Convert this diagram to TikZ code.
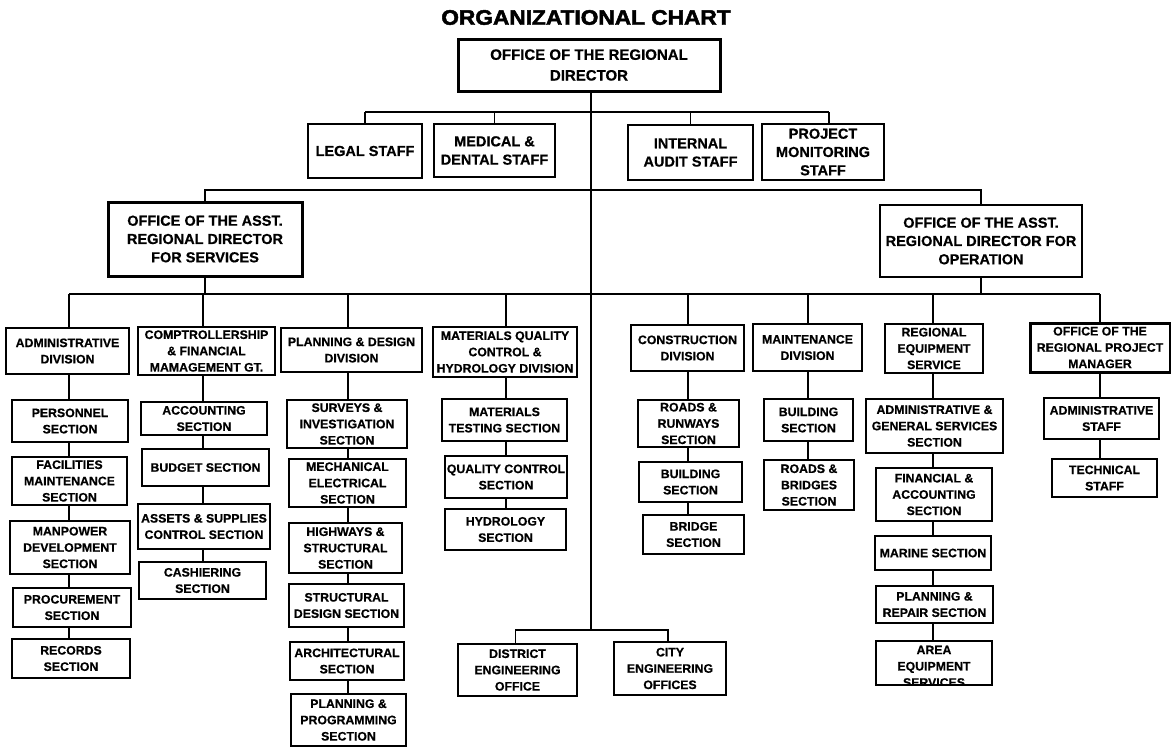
\documentclass[tikz,border=0pt]{standalone}
\usepackage{graphicx}
\usepackage{fontspec}
\setmainfont{Liberation Sans}[BoldFeatures={FakeBold=0.6}]
\newfontfamily\headingfont{Liberation Sans}[BoldFeatures={FakeBold=2.2}]
\newcommand\orgtitle{\headingfont\bfseries\fontsize{21}{24}\selectfont}
\newcommand\orgtop{\bfseries\fontsize{15}{20.7}\selectfont}
\newcommand\orgstaff{\bfseries\fontsize{14.5}{18.3}\selectfont}
\newcommand\orgsec{\bfseries\fontsize{12.3}{16.3}\selectfont}
\begin{document}
\begin{tikzpicture}[x=1pt,y=-1pt,
  unitbox/.style={draw, fill=white, line width=1.3pt, inner sep=0pt, align=center, font=\orgsec},
  heavy/.style={unitbox, line width=3pt},
  midheavy/.style={unitbox, line width=2.2pt},
  link/.style={line width=1.4pt},
  sz/.style 2 args={minimum width=#1pt, minimum height=#2pt}]

\fill[white] (0,0) rectangle (1171,748);
\useasboundingbox (0,0) rectangle (1171,748);

% title
\node[font=\orgtitle, inner sep=0pt] (title) at (586,17.5) {\scalebox{1.08}[1]{ORGANIZATIONAL CHART}};

% regional director and staff units
\node[heavy, font=\orgtop, sz={262}{52}] (rd) at (589,65) {OFFICE OF THE REGIONAL\\DIRECTOR};
\node[unitbox, font=\orgstaff, sz={114}{54}] (legal) at (365,151) {LEGAL STAFF};
\node[unitbox, font=\orgstaff, sz={121}{53}] (med) at (494.5,150.5) {MEDICAL \&\\DENTAL STAFF};
\node[unitbox, font=\orgstaff, sz={125}{55}] (audit) at (690.5,152.5) {INTERNAL\\AUDIT STAFF};
\node[unitbox, font=\orgstaff, sz={122}{56}] (pm) at (823,152) {PROJECT\\MONITORING\\STAFF};

% assistant regional directors
\node[heavy, font=\orgstaff, sz={194}{74}] (ards) at (205,239) {OFFICE OF THE ASST.\\REGIONAL DIRECTOR\\FOR SERVICES};
\node[midheavy, font=\orgstaff, sz={202}{72}] (ardo) at (981,241) {OFFICE OF THE ASST.\\REGIONAL DIRECTOR FOR\\OPERATION};

% divisions
\node[unitbox, sz={123}{46}] (adm) at (67.5,351) {ADMINISTRATIVE\\DIVISION};
\node[unitbox, sz={137}{48}] (comp) at (206.5,351) {COMPTROLLERSHIP\\\& FINANCIAL\\MAMAGEMENT GT.};
\node[unitbox, sz={141}{44}] (plan) at (351.5,350) {PLANNING \& DESIGN\\DIVISION};
\node[unitbox, sz={144}{50}] (mat) at (505,352) {MATERIALS QUALITY\\CONTROL \&\\HYDROLOGY DIVISION};
\node[unitbox, line width=1.6pt, sz={113}{46}] (cons) at (687.5,348) {CONSTRUCTION\\DIVISION};
\node[unitbox, sz={109}{47}] (maint) at (807.5,347.5) {MAINTENANCE\\DIVISION};
\node[unitbox, sz={98}{49}] (regeq) at (934,348.5) {REGIONAL\\EQUIPMENT\\SERVICE};
\node[heavy, sz={140}{49}] (rpm) at (1100,347.5) {OFFICE OF THE\\REGIONAL PROJECT\\MANAGER};

% administrative division sections
\node[unitbox, sz={116}{42}] (pers) at (70,421) {PERSONNEL\\SECTION};
\node[unitbox, sz={115}{48}] (fac) at (69.5,481) {FACILITIES\\MAINTENANCE\\SECTION};
\node[unitbox, sz={120}{53}] (man) at (70,547.5) {MANPOWER\\DEVELOPMENT\\SECTION};
\node[unitbox, sz={118}{39}] (proc) at (72,607.5) {PROCUREMENT\\SECTION};
\node[unitbox, sz={118}{39}] (rec) at (71,658.5) {RECORDS\\SECTION};

% comptrollership sections
\node[unitbox, sz={126}{33}] (acc) at (204,418.5) {ACCOUNTING\\SECTION};
\node[unitbox, sz={127}{37}] (bud) at (205.5,467.5) {BUDGET SECTION};
\node[unitbox, sz={132}{45}] (ass) at (204,526.5) {ASSETS \& SUPPLIES\\CONTROL SECTION};
\node[unitbox, sz={127}{37}] (cash) at (202.5,580.5) {CASHIERING\\SECTION};

% planning and design sections
\node[unitbox, sz={120}{48}] (surv) at (347,424) {SURVEYS \&\\INVESTIGATION\\SECTION};
\node[unitbox, sz={117}{48}] (mech) at (347.5,483) {MECHANICAL\\ELECTRICAL\\SECTION};
\node[unitbox, sz={113}{50}] (high) at (345.5,548) {HIGHWAYS \&\\STRUCTURAL\\SECTION};
\node[unitbox, sz={115}{43}] (sdes) at (346.5,605.5) {STRUCTURAL\\DESIGN SECTION};
\node[unitbox, sz={114}{38}] (arch) at (347,661) {ARCHITECTURAL\\SECTION};
\node[unitbox, sz={115}{52}] (pprog) at (348.5,720) {PLANNING \&\\PROGRAMMING\\SECTION};

% materials quality control sections
\node[unitbox, sz={125}{42}] (mtest) at (504.5,420) {MATERIALS\\TESTING SECTION};
\node[unitbox, sz={122}{42}] (qc) at (506,477) {QUALITY CONTROL\\SECTION};
\node[unitbox, sz={121}{41}] (hyd) at (505.5,529.5) {HYDROLOGY\\SECTION};

% construction sections
\node[unitbox, sz={101}{47}] (rr) at (688.5,423.5) {ROADS \&\\RUNWAYS\\SECTION};
\node[unitbox, sz={103}{40}] (cbld) at (690.5,482) {BUILDING\\SECTION};
\node[unitbox, sz={101}{39}] (bri) at (693.5,534.5) {BRIDGE\\SECTION};

% maintenance sections
\node[unitbox, sz={89}{42}] (mbld) at (808.5,420) {BUILDING\\SECTION};
\node[unitbox, sz={90}{50}] (rb) at (809,485) {ROADS \&\\BRIDGES\\SECTION};

% regional equipment service sections
\node[unitbox, sz={137}{54}] (ags) at (934.5,426) {ADMINISTRATIVE \&\\GENERAL SERVICES\\SECTION};
\node[unitbox, sz={116}{53}] (fa) at (934,494.5) {FINANCIAL \&\\ACCOUNTING\\SECTION};
\node[unitbox, line width=1.6pt, sz={116}{34}] (mar) at (933,553) {MARINE SECTION};
\node[unitbox, sz={117}{37}] (pr) at (934.5,604.5) {PLANNING \&\\REPAIR SECTION};
\node[unitbox, sz={116}{44}] (area) at (934,663) {};
\begin{scope}
  \clip ([shift={(0.7pt,0.7pt)}]area.south west) rectangle ([shift={(-0.7pt,-0.7pt)}]area.north east);
  \node[align=center, inner sep=0pt, font=\orgsec] (areatext) at (934,666.3) {AREA\\EQUIPMENT\\SERVICES};
\end{scope}

% project manager staff
\node[unitbox, sz={115}{41}] (as) at (1101.5,418.5) {ADMINISTRATIVE\\STAFF};
\node[unitbox, sz={105}{38}] (ts) at (1104.5,478) {TECHNICAL\\STAFF};

% engineering offices
\node[heavy, line width=2.6pt, sz={119}{52}] (dist) at (517.5,670) {DISTRICT\\ENGINEERING\\OFFICE};
\node[heavy, line width=2.6pt, sz={112}{53}] (city) at (670,668.5) {CITY\\ENGINEERING\\OFFICES};

% ---- connectors ----
\coordinate (axis) at (591,0);
\coordinate (staffbus) at (0,112);
\coordinate (ardbus) at (0,190);
\coordinate (divbus) at (0,294);
\coordinate (engbus) at (591,630);

% main spine
\draw[link] (rd.south -| axis) -- (engbus);

% staff units
\draw[link] (legal.north |- staffbus) -- ([xshift=6pt]pm.north |- staffbus);
\foreach \n in {legal,med,audit}
  \draw[link] (\n.north) -- (\n.north |- staffbus);
\draw[link] ([xshift=6pt]pm.north) -- ([xshift=6pt]pm.north |- staffbus);

% assistant regional directors
\draw[link] (ards.north) |- (ardbus -| ardo.north) -- (ardo.north);

% division bus
\draw[link] (ards.south) -- (ards.south |- divbus);
\draw[link] (ardo.south) -- (ardo.south |- divbus);
\foreach \n/\x in {adm/69,comp/203,plan/348,mat/506,cons/688,maint/808,regeq/933,rpm/1100}{
  \coordinate (k-\n) at (\x,294);
  \draw[link] (k-\n) -- (\n.north -| k-\n);
}
\draw[link] (k-adm) -- (k-rpm);

% section chains
\foreach \a/\b/\k in {adm/pers/adm, pers/fac/adm, fac/man/adm, man/proc/adm, proc/rec/adm,
    comp/acc/comp, acc/bud/comp, bud/ass/comp, ass/cash/comp,
    plan/surv/plan, surv/mech/plan, mech/high/plan, high/sdes/plan, sdes/arch/plan, arch/pprog/plan,
    mat/mtest/mat, mtest/qc/mat, qc/hyd/mat,
    cons/rr/cons, rr/cbld/cons, cbld/bri/cons,
    maint/mbld/maint, mbld/rb/maint,
    regeq/ags/regeq, ags/fa/regeq, fa/mar/regeq, mar/pr/regeq, pr/area/regeq,
    rpm/as/rpm, as/ts/rpm}
  \draw[link] (\a.south -| k-\k) -- (\b.north -| k-\k);

% engineering offices
\draw[link] ([xshift=-2pt]dist.north) |- (engbus) -| ([xshift=-2pt]city.north);

\end{tikzpicture}
\end{document}
